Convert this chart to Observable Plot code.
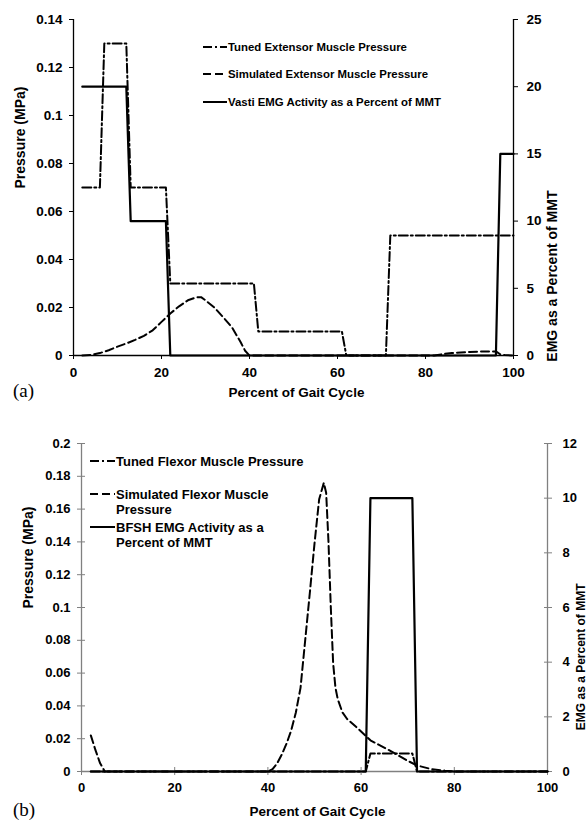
<!DOCTYPE html>
<html><head><meta charset="utf-8">
<script src="https://cdn.jsdelivr.net/npm/d3@7"></script>
<script src="https://cdn.jsdelivr.net/npm/@observablehq/plot@0.6"></script>
<style>
html,body{margin:0;padding:0;background:#fff;overflow:hidden}
#wrap{position:relative;width:587px;height:822px;background:#fff}
#wrap > svg{display:block}
#overlay{position:absolute;left:0;top:0;pointer-events:none}
</style></head><body><div id="wrap"></div>
<script>
// ---------- shared ----------
const gaitTicks = [0, 20, 40, 60, 80, 100];

// ---------- panel (a) : extensor ----------
const pressureTicksA = [0, 0.02, 0.04, 0.06, 0.08, 0.1, 0.12, 0.14];
const emgTicksA = [0, 5, 10, 15, 20, 25];
const tunedExtX = [2, 6, 7, 12, 13, 21, 22, 41, 42, 61, 62, 71, 72, 100];
const tunedExtP = [0.07, 0.07, 0.13, 0.13, 0.07, 0.07, 0.03, 0.03, 0.01, 0.01, 0, 0, 0.05, 0.05];
const simExtX = [2, 4, 6, 8, 10, 12, 14, 16, 18, 20, 22, 24, 26, 28, 29, 30, 32, 34, 36, 38, 39, 40, 60, 82, 84, 86, 88, 90, 92, 94, 96, 97, 98, 100];
const simExtP = [0, 0.0002, 0.001, 0.0022, 0.0037, 0.005, 0.0065, 0.0082, 0.0105, 0.014, 0.0175, 0.0205, 0.023, 0.0243, 0.0243, 0.023, 0.02, 0.016, 0.0118, 0.0055, 0.002, 0, 0, 0, 0.0006, 0.001, 0.0013, 0.0015, 0.0016, 0.0017, 0.0017, 0.0005, 0.0002, 0];
const vastiX = [2, 12, 13, 21, 22, 96, 97, 100];
const vastiEMG = [20, 20, 10, 10, 0, 0, 15, 15];
const legendA = ["Tuned Extensor Muscle Pressure", "Simulated Extensor Muscle Pressure", "Vasti EMG Activity as a Percent of MMT"];

// ---------- panel (b) : flexor ----------
const pressureTicksB = [0, 0.02, 0.04, 0.06, 0.08, 0.1, 0.12, 0.14, 0.16, 0.18, 0.2];
const emgTicksB = [0, 2, 4, 6, 8, 10, 12];
const tunedFlexX = [2, 61, 62, 71, 72, 100];
const tunedFlexP = [0, 0, 0.011, 0.011, 0, 0];
const simFlexX = [2, 3, 4, 5, 40, 41, 42, 43, 44, 45, 46, 47, 48, 49, 50, 51, 52, 52.5, 53, 53.5, 54, 54.5, 55, 56, 57, 59, 62, 66, 70, 72, 75, 78, 80, 100];
const simFlexP = [0.022, 0.013, 0.005, 0, 0, 0.0015, 0.005, 0.0105, 0.017, 0.025, 0.036, 0.051, 0.08, 0.109, 0.139, 0.166, 0.176, 0.17, 0.14, 0.1, 0.066, 0.051, 0.044, 0.036, 0.032, 0.027, 0.019, 0.013, 0.0065, 0.0037, 0.0015, 0.0005, 0, 0];
const bfshX = [2, 61, 62, 71, 72, 100];
const bfshEMG = [0, 0, 10, 10, 0, 0];
const legendB = [["Tuned Flexor Muscle Pressure"], ["Simulated Flexor Muscle", "Pressure"], ["BFSH EMG Activity as a", "Percent of MMT"]];

const FONT = "Arial, 'Liberation Sans', Helvetica, sans-serif";
const DASH_TUNED = "9,3,2,3";
const DASH_SIM = "8,4";

const pts = (xs, ys, k = 1) => xs.map((x, i) => ({x, y: ys[i] * k}));
const fmtP = d => String(+d.toFixed(2));

function panel(o) {
  const ratio = o.pMax / o.eMax;
  return Plot.plot({
    width: 587, height: o.height,
    marginTop: o.mt, marginBottom: o.mb, marginLeft: o.ml, marginRight: o.mr,
    x: {domain: [0, 100]},
    y: {domain: [0, o.pMax]},
    style: {fontFamily: FONT, fontWeight: "bold", fontSize: o.fs + "px", color: "#000", background: "#fff", overflow: "hidden"},
    marks: [
      Plot.ruleX([0, 100], {stroke: o.axisColor, strokeWidth: 1.3}),
      Plot.ruleY([0], {stroke: o.axisColor, strokeWidth: 1.3}),
      Plot.axisX(gaitTicks, {tickSize: o.cross ? 8 : 4, dy: o.cross ? -4 : 0, tickPadding: o.xPad, stroke: o.axisColor, fill: "#000", label: null, tickFormat: d => String(d)}),
      Plot.axisY(o.pTicks, {anchor: "left", tickSize: o.cross ? 8 : 4, dx: o.cross ? 4 : 0, tickPadding: o.lPad, stroke: o.axisColor, fill: "#000", label: null, tickFormat: fmtP}),
      Plot.axisY(o.eTicks.map(v => v * ratio), {anchor: "right", tickSize: o.cross ? 8 : 4, dx: o.cross ? -4 : 0, tickPadding: o.rPad, stroke: o.axisColor, fill: "#000", label: null, tickFormat: d => String(Math.round(d / ratio))}),
      Plot.line(pts(o.emgX, o.emgV, ratio), {x: "x", y: "y", stroke: "#000", strokeWidth: 2.2}),
      Plot.line(pts(o.simX, o.simP), {x: "x", y: "y", stroke: "#000", strokeWidth: 2, strokeDasharray: DASH_SIM}),
      Plot.line(pts(o.tunX, o.tunP), {x: "x", y: "y", stroke: "#000", strokeWidth: 2, strokeDasharray: DASH_TUNED}),
      Plot.text([o.yLabel], {text: d => d, frameAnchor: "left", rotate: -90, dx: o.yDx, dy: o.yDy, fontSize: 14}),
      Plot.text([o.rLabel], {text: d => d, frameAnchor: "right", rotate: -90, dx: o.rDx, dy: o.rDy, fontSize: o.rFs}),
      Plot.text([o.xLabel], {text: d => d, frameAnchor: "bottom", dy: o.xDy, dx: o.xDx, fontSize: 13.5})
    ]
  });
}

const wrap = document.getElementById("wrap");
wrap.appendChild(panel({
  height: 410, mt: 19, mb: 55, ml: 73, mr: 74, fs: 13.5, cross: false, axisColor: "#000",
  pMax: 0.14, eMax: 25, pTicks: pressureTicksA, eTicks: emgTicksA,
  xPad: 8, lPad: 7, rPad: 9,
  tunX: tunedExtX, tunP: tunedExtP, simX: simExtX, simP: simExtP, emgX: vastiX, emgV: vastiEMG,
  yLabel: "Pressure (MPa)", yDx: -53, yDy: 1,
  rLabel: "EMG as a Percent of MMT", rDx: 39, rDy: 3, rFs: 14,
  xLabel: "Percent of Gait Cycle", xDy: 41, xDx: 3
}));
wrap.appendChild(panel({
  height: 412, mt: 33, mb: 51, ml: 81, mr: 40, fs: 13, cross: true, axisColor: "#808080",
  pMax: 0.2, eMax: 12, pTicks: pressureTicksB, eTicks: emgTicksB,
  xPad: 7, lPad: 7, rPad: 11,
  tunX: tunedFlexX, tunP: tunedFlexP, simX: simFlexX, simP: simFlexP, emgX: bfshX, emgV: bfshEMG,
  yLabel: "Pressure (MPa)", yDx: -53, yDy: 1,
  rLabel: "EMG as a Percent of MMT", rDx: 34, rDy: -24, rFs: 12,
  xLabel: "Percent of Gait Cycle", xDy: 44, xDx: 3
}));

// ---------- legends and panel tags (overlay) ----------
const ov = d3.select(wrap).append("svg").attr("id", "overlay").attr("width", 587).attr("height", 822)
  .style("font-family", FONT).style("font-weight", "bold");
const dashes = [DASH_TUNED, DASH_SIM, null];
function legend(items, x0, x1, rows, fs, lh) {
  items.forEach((lines, i) => {
    const y = rows[i];
    ov.append("line").attr("x1", x0).attr("x2", x1).attr("y1", y).attr("y2", y)
      .attr("stroke", "#000").attr("stroke-width", 2).attr("stroke-dasharray", dashes[i]);
    const t = ov.append("text").attr("x", x1 + 1).attr("y", y).attr("font-size", fs);
    [].concat(lines).forEach((s, j) => t.append("tspan").attr("x", x1 + 1).attr("dy", j === 0 ? "0.36em" : lh).text(s));
  });
}
legend(legendA.map(s => [s]), 203, 227, [47, 74, 102], 11.4, 15);
legend(legendB, 90, 115, [461, 494, 527], 13, 15.5);
ov.append("text").attr("x", 13).attr("y", 397).attr("font-family", "'Times New Roman', 'Liberation Serif', serif")
  .attr("font-weight", "normal").attr("font-size", 19).text("(a)");
ov.append("text").attr("x", 13).attr("y", 816).attr("font-family", "'Times New Roman', 'Liberation Serif', serif")
  .attr("font-weight", "normal").attr("font-size", 19).text("(b)");
</script></body></html>
